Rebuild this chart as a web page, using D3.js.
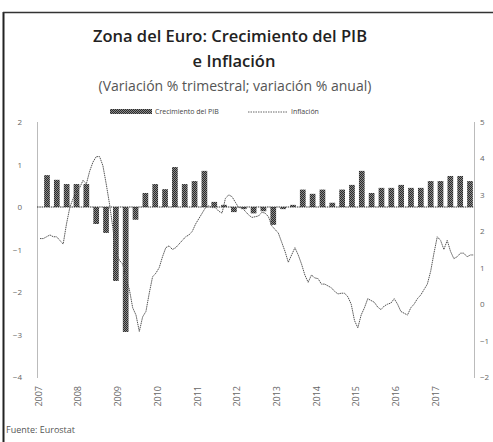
<!DOCTYPE html>
<html>
<head>
<meta charset="utf-8">
<script src="https://cdn.jsdelivr.net/npm/d3@7"></script>
<style>
  body { margin: 0; background: #fff; }
  svg { display: block; font-family: "Open Sans", sans-serif; }
</style>
</head>
<body>
<div id="chart"></div>
<script>
// datos
const years = [2007, 2008, 2009, 2010, 2011, 2012, 2013, 2014, 2015, 2016, 2017];
const quarterNames = ["T1", "T2", "T3", "T4"];

// Crecimiento del PIB (% trimestral)
const gdpGrowth = [
  0.75, 0.64, 0.54, 0.54,
  0.54, -0.40, -0.61, -1.74,
  -2.94, -0.30, 0.33, 0.54,
  0.42, 0.94, 0.54, 0.61,
  0.85, 0.12, 0.05, -0.12,
  -0.05, -0.15, -0.10, -0.42,
  -0.05, 0.05, 0.41, 0.31,
  0.41, 0.10, 0.41, 0.52,
  0.85, 0.33, 0.45, 0.45,
  0.52, 0.45, 0.45, 0.61,
  0.61, 0.73, 0.73, 0.61
];

// Inflación (% anual, mensual)
const inflation = [
  1.80, 1.80, 1.85, 1.90, 1.85, 1.85, 1.75, 1.65, 2.20, 2.65, 2.90, 3.10,
  3.20, 3.40, 3.30, 3.65, 3.90, 4.05, 4.05, 3.80, 3.30, 2.75, 2.10, 1.40,
  1.20, 1.10, 0.70, 0.40, -0.10, -0.30, -0.75, -0.35, -0.20, 0.30, 0.75, 0.85,
  1.00, 1.30, 1.55, 1.60, 1.50, 1.55, 1.65, 1.75, 1.85, 1.90, 2.00, 2.20,
  2.35, 2.50, 2.65, 2.70, 2.65, 2.65, 2.55, 2.50, 2.90, 3.00, 2.95, 2.80,
  2.65, 2.65, 2.55, 2.45, 2.38, 2.40, 2.42, 2.52, 2.50, 2.40, 2.15, 2.05,
  1.95, 1.70, 1.45, 1.15, 1.35, 1.55, 1.35, 1.10, 0.80, 0.60, 0.80, 0.72,
  0.70, 0.55, 0.55, 0.50, 0.45, 0.35, 0.28, 0.30, 0.30, 0.20, 0.00, -0.45,
  -0.65, -0.30, -0.10, 0.15, 0.10, 0.05, -0.08, -0.15, -0.05, 0.00, 0.03, 0.15,
  0.00, -0.20, -0.25, -0.30, -0.10, 0.00, 0.15, 0.25, 0.40, 0.55, 0.90, 1.40,
  1.85, 1.75, 1.50, 1.75, 1.45, 1.25, 1.30, 1.40, 1.40, 1.30, 1.35, 1.35
];

const leftTicks = [-4, -3, -2, -1, 0, 1, 2];
const rightTicks = [-2, -1, 0, 1, 2, 3, 4, 5];

const width = 493;
const height = 442;
const plot = {left: 37, right: 474, top: 122, bottom: 377, xStart: 40, xEnd: 477};

const quarters = [];
years.forEach(y => quarterNames.forEach(q => quarters.push(y + q)));

const svg = d3.select("#chart")
  .append("svg")
  .attr("width", width)
  .attr("height", height)
  .attr("viewBox", [0, 0, width, height]);

// textura de las barras
const defs = svg.append("defs");
const pat = defs.append("pattern")
  .attr("id", "barTex")
  .attr("width", 2).attr("height", 2)
  .attr("patternUnits", "userSpaceOnUse");
pat.append("rect").attr("width", 2).attr("height", 2).attr("fill", "#8a8a8a");
pat.append("rect").attr("width", 1).attr("height", 1).attr("fill", "#2a2a2a");
pat.append("rect").attr("x", 1).attr("y", 1).attr("width", 1).attr("height", 1).attr("fill", "#2a2a2a");

// marco
svg.append("line").attr("x1", 3.5).attr("x2", 3.5).attr("y1", 12).attr("y2", height)
  .attr("stroke", "#222").attr("stroke-width", 2);
svg.append("line").attr("x1", 3).attr("x2", width).attr("y1", 12.5).attr("y2", 12.5)
  .attr("stroke", "#333").attr("stroke-width", 1.5);

// titulos
svg.append("text").attr("x", 230).attr("y", 42).attr("text-anchor", "middle")
  .attr("font-size", 16.5).attr("font-weight", 600).attr("fill", "#222")
  .text("Zona del Euro: Crecimiento del PIB");
svg.append("text").attr("x", 234).attr("y", 67).attr("text-anchor", "middle")
  .attr("font-size", 16.5).attr("font-weight", 600).attr("fill", "#222")
  .text("e Inflación");
svg.append("text").attr("x", 235).attr("y", 91).attr("text-anchor", "middle")
  .attr("font-size", 14).attr("fill", "#555")
  .text("(Variación % trimestral; variación % anual)");

// leyenda
const legend = svg.append("g").attr("font-size", 7).attr("fill", "#444");
legend.append("rect").attr("x", 110).attr("y", 109).attr("width", 42).attr("height", 5)
  .attr("fill", "url(#barTex)");
legend.append("text").attr("x", 155).attr("y", 114).text("Crecimiento del PIB");
legend.append("line").attr("x1", 248).attr("x2", 287).attr("y1", 112).attr("y2", 112)
  .attr("stroke", "#666").attr("stroke-width", 1).attr("stroke-dasharray", "1.5 1");
legend.append("text").attr("x", 291).attr("y", 114).text("Inflación");

// escalas
const xBand = d3.scaleBand().domain(quarters).range([plot.xStart, plot.xEnd]).padding(0.42);
const xTime = d3.scaleLinear().domain([2007, 2018]).range([plot.xStart, plot.xEnd]);
const yL = d3.scaleLinear().domain([-4, 2]).range([plot.bottom, plot.top]);
const yR = d3.scaleLinear().domain([-2, 5]).range([plot.bottom, plot.top]);

// eje izquierdo
const gL = svg.append("g")
  .attr("transform", "translate(" + plot.left + ",0)")
  .call(d3.axisLeft(yL).tickValues(leftTicks).tickFormat(d3.format("d"))
    .tickSize(0).tickPadding(15).tickSizeOuter(0));
gL.select(".domain").attr("stroke", "#777").attr("stroke-dasharray", "1 1");
gL.selectAll("text").attr("font-size", 8).attr("fill", "#666").attr("font-family", "Open Sans");

// eje derecho
const gR = svg.append("g")
  .attr("transform", "translate(" + plot.right + ",0)")
  .call(d3.axisRight(yR).tickValues(rightTicks).tickFormat(d3.format("d"))
    .tickSize(0).tickPadding(6).tickSizeOuter(0));
gR.select(".domain").attr("stroke", "#777").attr("stroke-dasharray", "1 1");
gR.selectAll("text").attr("font-size", 8).attr("fill", "#666").attr("font-family", "Open Sans");

// barras
svg.append("g")
  .selectAll("rect")
  .data(gdpGrowth)
  .join("rect")
    .attr("fill", "url(#barTex)")
    .attr("x", (d, i) => xBand(quarters[i]))
    .attr("y", d => yL(Math.max(0, d)))
    .attr("width", xBand.bandwidth())
    .attr("height", d => Math.abs(yL(d) - yL(0)));

// linea cero
svg.append("line")
  .attr("x1", plot.left).attr("x2", plot.right)
  .attr("y1", yL(0)).attr("y2", yL(0))
  .attr("stroke", "#333").attr("stroke-width", 1.2).attr("stroke-dasharray", "1.5 0.8");

// inflacion
const line = d3.line()
  .x((d, i) => xTime(2007 + i / 12))
  .y(d => yR(d));
svg.append("path")
  .datum(inflation)
  .attr("fill", "none")
  .attr("stroke", "#555")
  .attr("stroke-width", 1)
  .attr("stroke-dasharray", "1.5 0.7")
  .attr("d", line);

// eje horizontal (etiquetas abajo)
const gX = svg.append("g")
  .attr("transform", "translate(0," + (plot.bottom + 9) + ")")
  .call(d3.axisBottom(xTime).tickValues(years).tickFormat(d3.format("d")).tickSize(0));
gX.select(".domain").remove();
gX.selectAll("text")
  .attr("font-size", 9).attr("fill", "#666").attr("font-family", "Open Sans")
  .attr("text-anchor", "end")
  .attr("transform", "rotate(-90)")
  .attr("x", 0).attr("y", -2).attr("dy", "0.35em");

// fuente
svg.append("text").attr("x", 6).attr("y", 433)
  .attr("font-size", 9).attr("fill", "#555")
  .text("Fuente: Eurostat");
</script>
</body>
</html>
